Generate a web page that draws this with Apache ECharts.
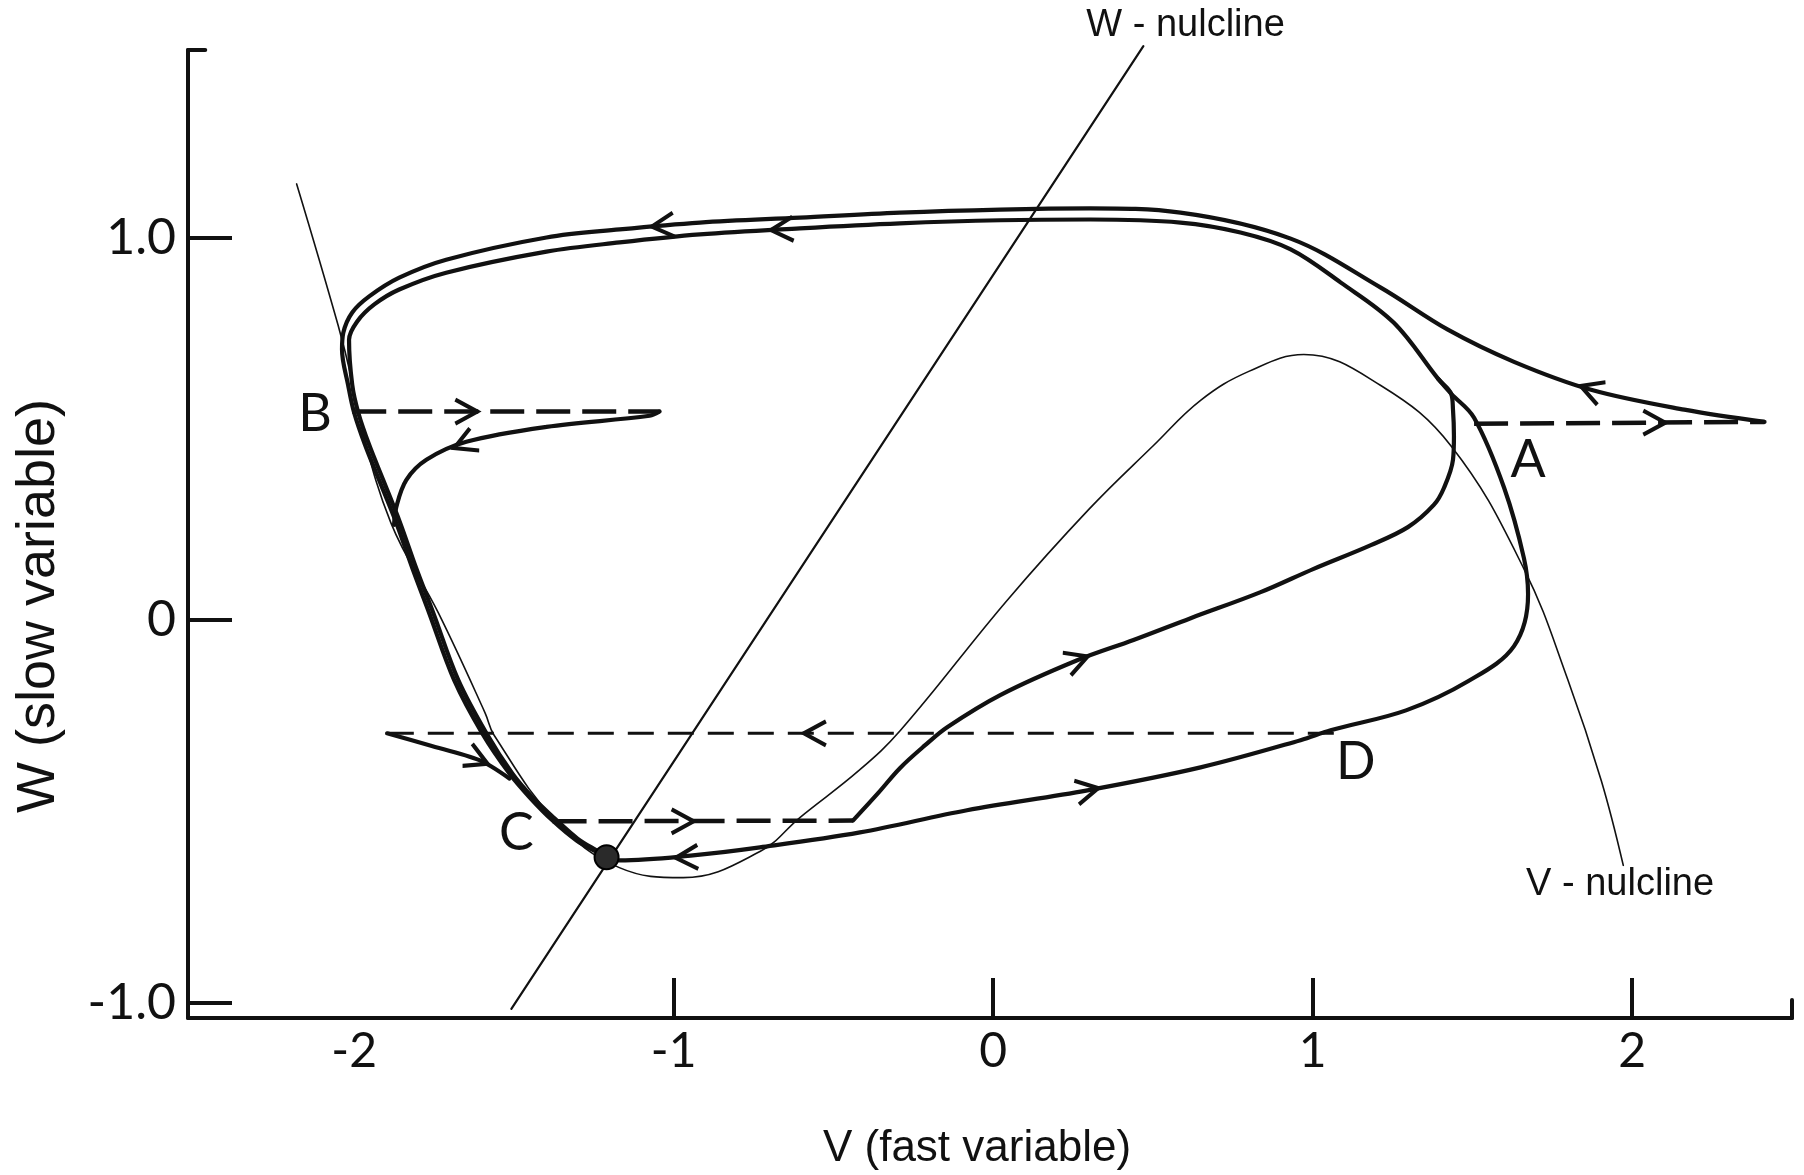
<!DOCTYPE html>
<html>
<head>
<meta charset="utf-8">
<title>FitzHugh-Nagumo phase plane</title>
<script src="https://cdn.jsdelivr.net/npm/echarts@6/dist/echarts.min.js"></script>
<style>
  html, body { margin: 0; padding: 0; background: #fff; }
  #chart { width: 1804px; height: 1175px; }
</style>
</head>
<body>
<div id="chart"></div>
<script>
// ---- data (V, W) ----
const xTickValues = [-1, 0, 1, 2];
const xLabelValues = [-2, -1, 0, 1, 2];
const yTickValues = [-1, 0, 1];

const wNullcline = [[-1.508, -1.016], [0.470, 1.500]];

const vNullcline = [
  [-2.18, 1.14], [-2.05, 0.77], [-2.008, 0.63], [-1.99, 0.545], [-1.885, 0.254],
  [-1.736, 0.018], [-1.59, -0.243], [-1.562, -0.301], [-1.37, -0.524], [-1.17, -0.647],
  [-0.97, -0.673], [-0.73, -0.605], [-0.605, -0.516], [-0.42, -0.393], [-0.29, -0.288],
  [0.044, 0.052], [0.30, 0.29], [0.50, 0.455], [0.65, 0.575], [0.80, 0.65],
  [0.972, 0.694], [1.213, 0.613], [1.433, 0.455], [1.661, 0.134], [1.799, -0.157],
  [1.903, -0.419], [1.972, -0.641]
];

// return from the far end of the A jump, over the top, down the left branch
const pathA = [
  [2.414, 0.518], [2.163, 0.550], [1.871, 0.602], [1.630, 0.675], [1.423, 0.759],
  [1.213, 0.869], [0.931, 0.997], [0.586, 1.065], [0.304, 1.076], [0.022, 1.073],
  [-0.292, 1.065], [-0.605, 1.052], [-0.918, 1.039], [-1.169, 1.021], [-1.398, 1.000],
  [-1.712, 0.942], [-1.859, 0.895], [-1.953, 0.846], [-2.006, 0.804], [-2.034, 0.751],
  [-2.038, 0.707], [-2.019, 0.615], [-2.000, 0.542], [-1.966, 0.458], [-1.922, 0.366],
  [-1.868, 0.254], [-1.818, 0.136], [-1.765, 0.018], [-1.687, -0.157], [-1.599, -0.296],
  [-1.514, -0.401], [-1.451, -0.463], [-1.379, -0.524], [-1.304, -0.576], [-1.232, -0.610],
  [-1.210, -0.620]
];

// excursion after the C jump: up to the right branch, across the top, back down
const pathC = [
  [-0.439, -0.524], [-0.361, -0.453], [-0.292, -0.387], [-0.213, -0.327], [-0.144, -0.280],
  [0.022, -0.196], [0.263, -0.105], [0.439, -0.052], [0.618, 0.005], [0.837, 0.073],
  [1.003, 0.134], [1.182, 0.196], [1.298, 0.243], [1.379, 0.301], [1.411, 0.346],
  [1.439, 0.419], [1.442, 0.482], [1.439, 0.550], [1.433, 0.592], [1.392, 0.631],
  [1.254, 0.777], [1.088, 0.882], [0.931, 0.969], [0.774, 1.013], [0.586, 1.039],
  [0.304, 1.047], [0.022, 1.045], [-0.292, 1.037], [-0.605, 1.024], [-0.918, 1.008],
  [-1.169, 0.987], [-1.398, 0.963], [-1.712, 0.908], [-1.859, 0.864], [-1.937, 0.825],
  [-1.991, 0.780], [-2.016, 0.733], [-2.006, 0.615], [-1.987, 0.542], [-1.953, 0.458],
  [-1.909, 0.366], [-1.856, 0.254], [-1.806, 0.136], [-1.752, 0.018], [-1.674, -0.157],
  [-1.586, -0.296], [-1.505, -0.401], [-1.442, -0.463], [-1.373, -0.518], [-1.301, -0.571],
  [-1.232, -0.607], [-1.210, -0.620]
];

// lower trajectory through D, bending up past A
const pathD = [
  [-1.210, -0.620], [-1.169, -0.628], [-0.940, -0.615], [-0.730, -0.594], [-0.417, -0.555],
  [-0.082, -0.497], [0.295, -0.445], [0.649, -0.385], [0.962, -0.314], [1.056, -0.288],
  [1.292, -0.236], [1.486, -0.160], [1.630, -0.068], [1.674, 0.068], [1.661, 0.162],
  [1.599, 0.346], [1.505, 0.529], [1.433, 0.592], [1.392, 0.631]
];

// return after the B jump
const pathB = [
  [-1.044, 0.545], [-1.075, 0.534], [-1.398, 0.505], [-1.649, 0.466], [-1.774, 0.419],
  [-1.837, 0.366], [-1.868, 0.296], [-1.875, 0.249]
];

// return after the D jump
const pathDback = [[-1.897, -0.296], [-1.765, -0.327], [-1.608, -0.366], [-1.514, -0.414]];

// horizontal jumps (dashed)
const jumpB = [[-2.006, 0.545], [-1.044, 0.545]];
const jumpA = [[1.505, 0.513], [2.414, 0.518]];
const jumpC = [[-1.379, -0.526], [-0.439, -0.524]];
const jumpD = [[1.066, -0.296], [-1.897, -0.296]];

const restPoint = [[-1.21, -0.62]];

// arrowheads: where they sit and a point they head toward
const arrowAt = [
  [-1.649, 0.545], [-1.655, 0.461], [2.069, 0.516], [1.871, 0.602],
  [-1.034, 1.031], [-0.661, 1.021], [-0.558, -0.296], [-1.614, -0.364],
  [-0.972, -0.526], [0.263, -0.105], [-0.959, -0.620], [0.295, -0.445]
];
const arrowToward = [
  [-1.5, 0.545], [-1.774, 0.419], [2.3, 0.516], [1.63, 0.675],
  [-1.169, 1.021], [-0.918, 1.008], [-0.8, -0.296], [-1.514, -0.401],
  [-0.8, -0.526], [0.439, -0.052], [-1.169, -0.628], [0.649, -0.385]
];

const pointNames = ['A', 'B', 'C', 'D'];
const pointNameAt = [[1.674, 0.419], [-2.122, 0.539], [-1.492, -0.558], [1.135, -0.372]];

const curveNames = ['W - nulcline', 'V - nulcline'];
const curveNameAt = [[0.602, 1.555], [1.962, -0.691]];

const xRange = [-2.52, 2.5];
const yRange = [-1.04, 1.49];
const axisCapTop = [[-2.52, 1.49], [-2.466, 1.49]];
const axisCapRight = [[2.5, -1.04], [2.5, -0.993]];

// ---- chart ----
const INK = '#111';
const DIGIT_FONT = 'Lato, "Open Sans", sans-serif';
const TEXT_FONT = '"Liberation Sans", Arial, sans-serif';

function curve(data, width, smooth) {
  return {
    type: 'line', data: data, showSymbol: false, smooth: smooth, clip: false,
    lineStyle: { color: INK, width: width, cap: 'round', join: 'round' },
    silent: true, z: 3
  };
}
function dashed(data, width, dash) {
  return {
    type: 'line', data: data, showSymbol: false, clip: false,
    lineStyle: { color: INK, width: width, type: dash, cap: 'butt' },
    silent: true, z: 3
  };
}

const chart = echarts.init(document.getElementById('chart'), null, { renderer: 'canvas' });

const option = {
  animation: false,
  backgroundColor: '#fff',
  grid: { left: 188, right: 12, top: 50, bottom: 157, containLabel: false, outerBoundsMode: 'none' },
  xAxis: {
    type: 'value', min: xRange[0], max: xRange[1],
    axisLine: { onZero: false, lineStyle: { color: INK, width: 4 } },
    axisTick: { inside: true, length: 40, customValues: xTickValues, lineStyle: { color: INK, width: 4 } },
    axisLabel: {
      customValues: xLabelValues, margin: 10, fontSize: 48,
      fontFamily: DIGIT_FONT, color: INK, formatter: v => String(v)
    },
    splitLine: { show: false },
    name: 'V (fast variable)', nameLocation: 'middle', nameGap: 109,
    nameTextStyle: { fontSize: 44, fontFamily: TEXT_FONT, color: INK, padding: [0, 26, 0, 0] }
  },
  yAxis: {
    type: 'value', min: yRange[0], max: yRange[1],
    axisLine: { onZero: false, lineStyle: { color: INK, width: 4 } },
    axisTick: { inside: true, length: 44, customValues: yTickValues, lineStyle: { color: INK, width: 4 } },
    axisLabel: {
      customValues: yTickValues, margin: 12, fontSize: 50,
      fontFamily: DIGIT_FONT, color: INK, formatter: v => (v === 0 ? '0' : v.toFixed(1))
    },
    splitLine: { show: false },
    name: 'W (slow variable)', nameLocation: 'middle', nameGap: 122, nameRotate: 90,
    nameTextStyle: { fontSize: 54, fontFamily: TEXT_FONT, color: INK, padding: [0, 144, 0, 0] }
  },
  series: [
    curve(wNullcline, 2.2, false),
    curve(vNullcline, 1.6, 0.4),
    curve(pathA, 4.2, 0.35),
    curve(pathC, 4.2, 0.35),
    curve(pathD, 4.2, 0.35),
    curve(pathB, 4.2, 0.35),
    curve(pathDback, 4.2, 0.3),
    dashed(jumpB, 4.5, [34, 12]),
    dashed(jumpA, 4.5, [34, 12]),
    dashed(jumpC, 4.5, [34, 12]),
    dashed(jumpD, 3, [26, 14]),
    curve(axisCapTop, 4, false),
    curve(axisCapRight, 4, false),
    {
      id: 'arrows', type: 'scatter', data: arrowAt, clip: false, silent: true, z: 5,
      symbol: 'path://M0,0L16,8L0,16', symbolSize: [22, 24],
      itemStyle: { color: 'rgba(0,0,0,0)', borderColor: INK, borderWidth: 4, opacity: 1 }
    },
    {
      type: 'scatter', data: restPoint, clip: false, silent: true, z: 6,
      symbol: 'circle', symbolSize: 24,
      itemStyle: { color: '#2a2a2a', borderColor: '#000', borderWidth: 2, opacity: 1 }
    },
    {
      type: 'scatter', clip: false, silent: true, z: 6, symbolSize: 1,
      itemStyle: { color: 'rgba(0,0,0,0)', opacity: 1 },
      data: pointNames.map((n, i) => ({ name: n, value: pointNameAt[i] })),
      label: {
        show: true, position: 'inside', formatter: p => p.name, opacity: 1,
        fontSize: 52, fontFamily: DIGIT_FONT, color: INK
      }
    },
    {
      type: 'scatter', clip: false, silent: true, z: 6, symbolSize: 1,
      itemStyle: { color: 'rgba(0,0,0,0)', opacity: 1 },
      data: curveNames.map((n, i) => ({ name: n, value: curveNameAt[i] })),
      label: {
        show: true, position: 'inside', formatter: p => p.name, opacity: 1,
        fontSize: 38, fontFamily: TEXT_FONT, color: INK
      }
    }
  ]
};

chart.setOption(option);

// orient every arrowhead along its direction of travel, measured on screen
const rotations = arrowAt.map((p, i) => {
  const a = chart.convertToPixel({ gridIndex: 0 }, p);
  const b = chart.convertToPixel({ gridIndex: 0 }, arrowToward[i]);
  return Math.atan2(-(b[1] - a[1]), b[0] - a[0]) * 180 / Math.PI;
});
chart.setOption({
  series: [{ id: 'arrows', data: arrowAt.map((p, i) => ({ value: p, symbolRotate: rotations[i] })) }]
});
</script>
</body>
</html>
